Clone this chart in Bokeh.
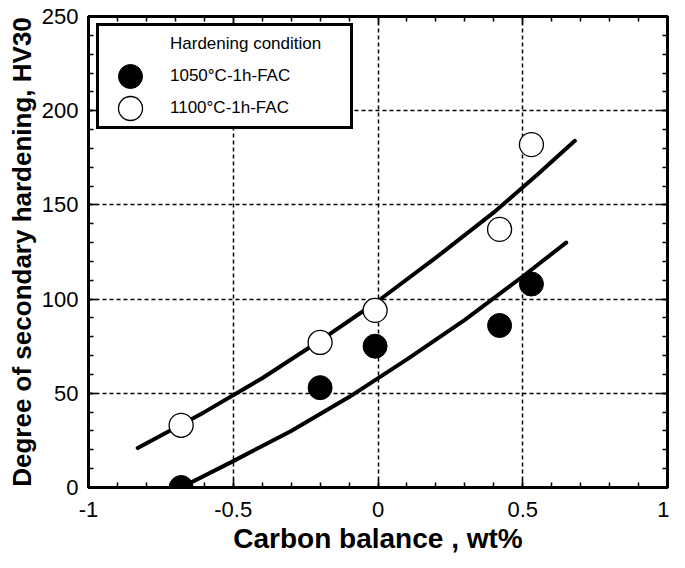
from bokeh.plotting import figure
from bokeh.models import (Range1d, SingleIntervalTicker, LinearAxis, Legend,
                          LegendItem, CustomJSTickFormatter)
from bokeh.embed import file_html
from bokeh.resources import INLINE

# ---- data ----
x_1050 = [-0.68, -0.2, -0.01, 0.42, 0.53]
y_1050 = [0, 53, 75, 86, 108]
x_1100 = [-0.68, -0.2, -0.01, 0.42, 0.53]
y_1100 = [33, 77, 94, 137, 182]

fit_1100_x = [-0.83, -0.6, -0.4, -0.2, 0.0, 0.2, 0.4, 0.55, 0.68]
fit_1100_y = [21, 40, 58, 78, 99, 122, 146, 166, 184]
fit_1050_x = [-0.68, -0.5, -0.3, -0.1, 0.1, 0.3, 0.5, 0.65]
fit_1050_y = [0, 14, 30, 48, 68, 89, 112, 130]

x_ticks = [-1, -0.5, 0, 0.5, 1]
x_tick_labels = ["-1", "-0.5", "0", "0.5", "1"]
y_ticks = [0, 50, 100, 150, 200, 250]

legend_title = "Hardening condition"
series_names = ["1050°C-1h-FAC", "1100°C-1h-FAC"]
x_title = "Carbon balance , wt%"
y_title = "Degree of secondary hardening, HV30"

FONT = "Liberation Sans"

p = figure(width=669, height=560, output_backend="svg", toolbar_location=None,
           x_range=Range1d(x_ticks[0], x_ticks[-1]),
           y_range=Range1d(y_ticks[0], y_ticks[-1]),
           min_border_left=88, min_border_right=2, min_border_top=16,
           min_border_bottom=73,
           x_axis_label=x_title, y_axis_label=y_title)

bottom_ax = p.below[0]
left_ax = p.left[0]

xticker = SingleIntervalTicker(interval=0.5, num_minor_ticks=5)
yticker = SingleIntervalTicker(interval=50, num_minor_ticks=5)
bottom_ax.ticker = xticker
left_ax.ticker = yticker
bottom_ax.major_label_overrides = dict(zip(x_ticks, x_tick_labels))

p.outline_line_color = "black"
p.outline_line_width = 3
p.background_fill_color = "white"

top_ax = LinearAxis(ticker=xticker, formatter=CustomJSTickFormatter(code="return ''"))
right_ax = LinearAxis(ticker=yticker, formatter=CustomJSTickFormatter(code="return ''"))
p.add_layout(top_ax, "above")
p.add_layout(right_ax, "right")

for ax in [bottom_ax, left_ax, top_ax, right_ax]:
    ax.axis_line_color = "black"
    ax.axis_line_width = 3
    ax.major_tick_in = 8
    ax.major_tick_out = 0
    ax.minor_tick_in = 5
    ax.minor_tick_out = 0
    ax.major_tick_line_width = 1.5
    ax.minor_tick_line_width = 1.5
    ax.major_tick_line_color = "black"
    ax.minor_tick_line_color = "black"
    ax.major_label_text_font = FONT
    ax.major_label_text_color = "black"
    ax.axis_label_text_font = FONT
    ax.axis_label_text_font_style = "bold"
    ax.axis_label_text_color = "black"

for ax in [top_ax, right_ax]:
    ax.major_label_text_font_size = "0px"
    ax.major_label_standoff = 0

bottom_ax.major_label_text_font_size = "22px"
left_ax.major_label_text_font_size = "22px"
bottom_ax.major_label_standoff = 14
left_ax.major_label_standoff = 10
bottom_ax.axis_label_text_font_size = "28px"
left_ax.axis_label_text_font_size = "26px"
bottom_ax.axis_label_standoff = 3
left_ax.axis_label_standoff = 2

for g, t in [(p.xgrid, xticker), (p.ygrid, yticker)]:
    g.ticker = t
    g.grid_line_color = "black"
    g.grid_line_width = 1.5
    g.grid_line_dash = "4 3"

p.line(fit_1100_x, fit_1100_y, line_color="black", line_width=4, line_cap="round")
p.line(fit_1050_x, fit_1050_y, line_color="black", line_width=4, line_cap="round")

r_fill = p.ellipse(x_1050, y_1050, width=24, height=24, width_units="screen",
                   height_units="screen", fill_color="black", line_color="black")
r_open = p.ellipse(x_1100, y_1100, width=24, height=24, width_units="screen",
                   height_units="screen", fill_color="white", line_color="black",
                   line_width=1.3)

legend = Legend(items=[LegendItem(label=legend_title, renderers=[]),
                       LegendItem(label=series_names[0], renderers=[r_fill]),
                       LegendItem(label=series_names[1], renderers=[r_open])],
                location=(8, 358), glyph_width=56, glyph_height=30,
                label_standoff=12, label_width=177, label_height=20,
                padding=3, spacing=2, margin=0,
                border_line_color="black", border_line_width=3,
                border_line_alpha=1,
                background_fill_color="white", background_fill_alpha=1,
                label_text_font=FONT, label_text_font_size="17px",
                label_text_color="black")
p.add_layout(legend)

open("out.html", "w").write(file_html(p, INLINE))
